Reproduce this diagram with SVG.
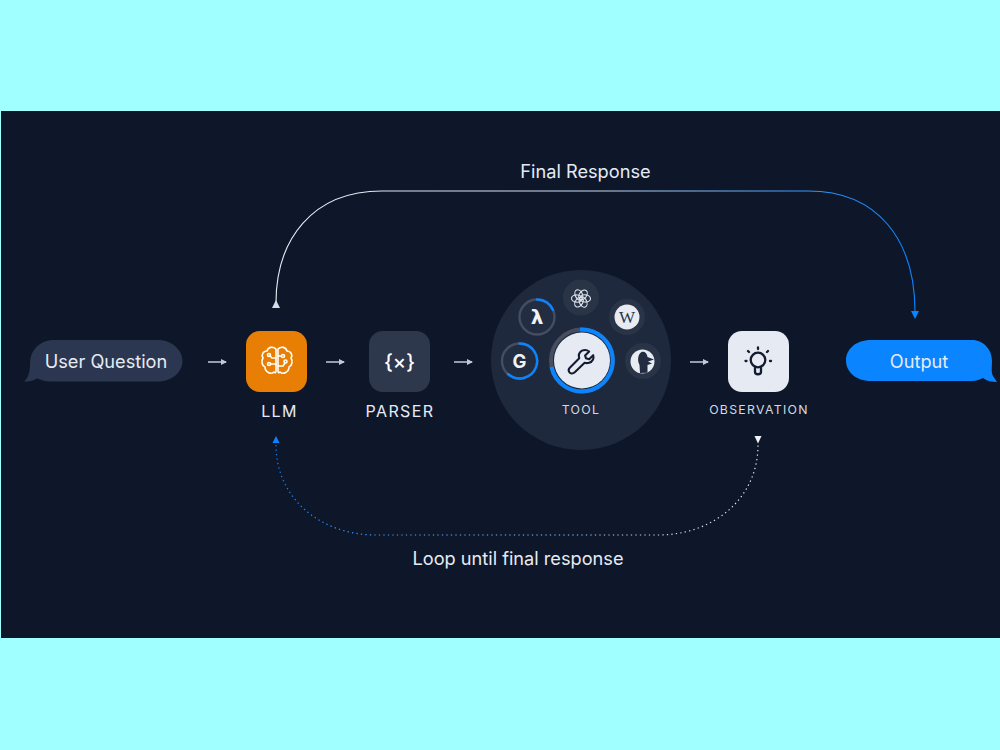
<svg xmlns="http://www.w3.org/2000/svg" width="1000" height="750" viewBox="0 0 1000 750">
<style>
text{font-family:Inter,"Liberation Sans",sans-serif}
.lbl{fill:#e6ebf3;font-size:18.2px;text-anchor:middle}
.cap{fill:#e6ebf3;font-size:16px;text-anchor:middle;letter-spacing:1.4px}
.sm{font-size:12.3px;letter-spacing:1.3px;fill:#d3d8e1;text-anchor:middle}
.arr{stroke:#c3cad6;stroke-width:1.5;fill:none;marker-end:url(#ah)}
.ico{fill:none;stroke:#fff;stroke-width:1.6;stroke-linecap:round;stroke-linejoin:round}
.dk{fill:none;stroke:#131c30;stroke-width:2.3;stroke-linecap:round;stroke-linejoin:round}
.sat{fill:#2a3447}
.satr{fill:#232d41;stroke:#454d5f;stroke-width:2.4}
.ring{fill:none;stroke:#0a84ff;stroke-width:2.4;stroke-linecap:round}
.pet{fill:none;stroke:#dfe4ec;stroke-width:1.15}
</style>
<defs>
<marker id="ah" markerWidth="6" markerHeight="6" refX="5" refY="3" orient="auto" markerUnits="userSpaceOnUse"><path d="M0 0L6 3L0 6z" fill="#c3cad6"/></marker>
<linearGradient id="gt" gradientUnits="userSpaceOnUse" x1="276" y1="0" x2="915" y2="0"><stop offset="0" stop-color="#e9edf4"/><stop offset="0.5" stop-color="#c9d9ee"/><stop offset="0.85" stop-color="#2f90f5"/><stop offset="1" stop-color="#0a84ff"/></linearGradient>
<linearGradient id="gb" gradientUnits="userSpaceOnUse" x1="276" y1="0" x2="758" y2="0"><stop offset="0" stop-color="#0a84ff"/><stop offset="1" stop-color="#e9edf4"/></linearGradient>
<ellipse id="petal" cx="2" cy="-3.600" rx="3.600" ry="5.400" class="pet" transform="rotate(35 2 -3.600)"/>
</defs>
<rect width="1000" height="750" fill="#a0ffff"/>
<rect x="1" y="111" width="999" height="527" fill="#0e172a"/>
<g id="connectors">
<path d="M276 303C276 240 312 191 382 191L808 191C878 191 915 240 915 312" fill="none" stroke="url(#gt)" stroke-width="1.1"/>
<path d="M272 308L276 300L280 308z" fill="#d5dce8"/>
<path d="M911 311L915 319L919 311z" fill="#0a84ff"/>
<path d="M276 445C276 498 320 535 376 535L658 535C714 535 758 498 758 445" fill="none" stroke="url(#gb)" stroke-width="1.2" stroke-dasharray="1.3 3.200"/>
<path d="M272.500 443L276 436L279.500 443z" fill="#0a84ff"/>
<path d="M754.500 436L761.500 436L758 443.500z" fill="#f1f3f7"/>
<path class="arr" d="M208 362L226 362"/>
<path class="arr" d="M326 362L344 362"/>
<path class="arr" d="M454 362L472 362"/>
<path class="arr" d="M690 362L708 362"/>
</g>
<g id="user-question">
<path d="M54 340L158 340C172 340 182.500 350 182.500 361C182.500 372 172 381.500 158 381.500L50 381.500C45 381.500 41 380 37 378.500C33 381 29 381.500 24 381.500C28 378 30 373 30 364C30 350 40 340 54 340z" fill="#2b3750"/>
<text x="106" y="368" class="lbl">User Question</text>
</g>
<g id="llm">
<rect x="246" y="331" width="61" height="61" rx="14" fill="#e87f04"/>
<g class="ico">
<path d="M276 349C273 346 268 347 267 351C263 351 261 355 263 358C261 361 262 366 265 367C265 372 271 375 274 372C275 373 276 373 276 371L276 349z"/>
<path d="M278 349C281 346 286 347 287 351C291 351 293 355 291 358C293 361 292 366 289 367C289 372 283 375 280 372C279 373 278 373 278 371L278 349z"/>
<path d="M276 358L272 358L270 356M276 364L271 364M278 366L283 366L285 363M278 356L281 356"/>
<circle cx="269" cy="355" r="1.500"/><circle cx="269" cy="364" r="1.500"/><circle cx="285.500" cy="361.500" r="1.500"/><circle cx="283" cy="356" r="1.500"/>
</g>
<text x="279.500" y="417" class="cap">LLM</text>
</g>
<g id="parser">
<rect x="369" y="331" width="61" height="61" rx="14" fill="#2d384c"/>
<text x="399.500" y="368.500" text-anchor="middle" style="font-size:20px;font-weight:500;fill:#fff">{×}</text>
<text x="400" y="417" class="cap">PARSER</text>
</g>
<g id="tool">
<circle cx="581" cy="360" r="90" fill="#1e293d"/>
<g id="tool-google"><circle cx="519.500" cy="361" r="17.500" class="satr"/><path class="ring" d="M519.500 343.500A17.500 17.500 0 1 1 508 374"/><text x="519.500" y="368" text-anchor="middle" style="font-size:18.500px;font-weight:700;fill:#f1f3f7">G</text></g>
<g id="tool-lambda"><circle cx="537" cy="317" r="17.500" class="satr"/><path class="ring" d="M537 299.500A17.500 17.500 0 0 1 553 310"/><text x="537" y="324" text-anchor="middle" style="font-size:20px;font-weight:700;fill:#f1f3f7;font-family:'DejaVu Sans',sans-serif">λ</text></g>
<g id="tool-openai"><circle cx="581" cy="297.500" r="18" class="sat"/>
<g transform="translate(581 298.500)"><use href="#petal"/><use href="#petal" transform="rotate(60)"/><use href="#petal" transform="rotate(120)"/><use href="#petal" transform="rotate(180)"/><use href="#petal" transform="rotate(240)"/><use href="#petal" transform="rotate(300)"/></g></g>
<g id="tool-wikipedia"><circle cx="627" cy="317" r="18" class="sat"/><circle cx="627" cy="317" r="12.500" fill="#e8ebf1"/><text x="627" y="323" text-anchor="middle" style="font-size:17px;fill:#2b3447;font-family:'Liberation Serif',serif">W</text></g>
<g id="tool-duck"><circle cx="643" cy="361" r="18" class="sat"/><circle cx="642.500" cy="361.500" r="12" fill="#e8ebf1"/><path d="M640 373L639.500 365C637 360 638 354 641.500 352C644.500 351 647 353 647.500 357L654 359.500L648 361.500L652 363.500L647.500 365L647.500 372.800z" fill="#232d41"/></g>
<g id="tool-main">
<circle cx="582" cy="360.500" r="31" fill="none" stroke="#454d5f" stroke-width="4"/>
<path d="M580 329.500A31 31 0 1 1 551.500 367" fill="none" stroke="#0a84ff" stroke-width="4"/>
<circle cx="582" cy="360.500" r="28" fill="#e6eaf2"/>
<path class="dk" transform="translate(581.500 361) scale(.9) translate(-581.500 -362)" d="M590 351.500L585.500 356L586.500 359L590 360L594.500 355.500C595.500 359 594 363 590 364C588 364.500 586.500 364.500 585 364L574 374.500C572 376.500 569 376 568 374.500C567 373 567 371 568.500 369.500L579 359C578 356 579 352.500 582 350.500C584.500 349.500 587.500 349.500 590 351.500z"/>
</g>
<text x="581" y="414" class="sm">TOOL</text>
</g>
<g id="observation">
<rect x="728" y="331" width="61" height="61" rx="14" fill="#e6eaf2"/>
<g class="dk">
<circle cx="758" cy="360" r="7.300"/>
<path d="M755 367L755 372C755 375 761 375 761 372L761 367M758 349L758 347.500M749 352L748 351M767 352L768 351M746.500 361L745.500 361M770 361L771 361"/>
</g>
<text x="759" y="414" class="sm">OBSERVATION</text>
</g>
<g id="output">
<path d="M871 340L972 340C984 340 992 350 992 361C992 367 991 372 993 376L997 382C992 382 987 381 983 378C979 380 976 381 972 381L871 381C856 381 846 372 846 360.500C846 349 856 340 871 340z" fill="#0a84ff"/>
<text x="919" y="368" class="lbl">Output</text>
</g>
<text x="585.500" y="178" class="lbl">Final Response</text>
<text x="518" y="565" class="lbl">Loop until final response</text>
</svg>
